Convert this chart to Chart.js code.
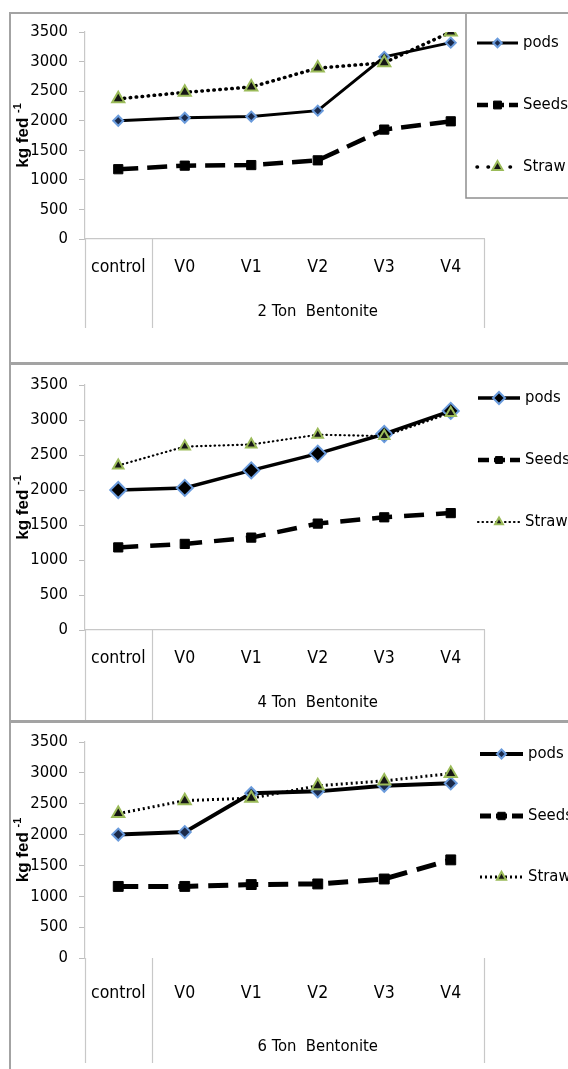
<!DOCTYPE html>
<html>
<head>
<meta charset="utf-8">
<script src="https://cdn.jsdelivr.net/npm/chart.js@4.4.1/dist/chart.umd.min.js"></script>
<style>
  html, body { margin: 0; padding: 0; background: #fff; }
  #page { position: relative; width: 568px; height: 1069px; overflow: hidden; background: #fff; }
  canvas { position: absolute; left: 0; }
  .rule { position: absolute; background: #a3a3a3; z-index: 5; }
</style>
</head>
<body>
<div id="page">
  <canvas id="c2" style="top:0px"></canvas>
  <canvas id="c4" style="top:363px"></canvas>
  <canvas id="c6" style="top:721px"></canvas>
  <div class="rule" style="left:9px; top:12px; width:559px; height:2px;"></div>
  <div class="rule" style="left:9px; top:12px; width:2px; height:1057px;"></div>
  <div class="rule" style="left:9px; top:362px; width:559px; height:3px;"></div>
  <div class="rule" style="left:9px; top:720px; width:559px; height:3px;"></div>
</div>
<script>
// Categories, tick values and labels
const categories = ['control', 'V0', 'V1', 'V2', 'V3', 'V4'];
const seriesNames = ['pods', 'Seeds', 'Straw'];
const yTicks = [0, 500, 1000, 1500, 2000, 2500, 3000, 3500];
const groupLabels = ['2 Ton  Bentonite', '4 Ton  Bentonite', '6 Ton  Bentonite'];
const yTitle = 'kg fed';
const yTitleSup = '-1';

// Yields, kg fed-1 — 2 ton bentonite
const pods2 = [2000, 2050, 2070, 2170, 3080, 3320];
const seeds2 = [1180, 1240, 1250, 1330, 1850, 1990];
const straw2 = [2370, 2480, 2570, 2890, 2980, 3500];

// 4 ton bentonite
const pods4 = [2000, 2030, 2280, 2520, 2800, 3130];
const seeds4 = [1180, 1230, 1320, 1520, 1610, 1670];
const straw4 = [2350, 2620, 2650, 2790, 2770, 3100];

// 6 ton bentonite
const pods6 = [2000, 2040, 2670, 2700, 2790, 2830];
const seeds6 = [1160, 1160, 1190, 1200, 1280, 1590];
const straw6 = [2340, 2550, 2590, 2790, 2870, 2990];

const FONT = "'DejaVu Sans Condensed', 'DejaVu Sans', sans-serif";
Chart.defaults.font.family = FONT;
Chart.defaults.color = '#000';

// Separators of the two-level category axis, group caption, rotated y title and legend
const panelDecor = {
  id: 'panelDecor',
  afterDraw(chart, args, o) {
    const { ctx, chartArea, scales } = chart;
    const x = scales.x;
    const p0 = x.getPixelForValue(0), p1 = x.getPixelForValue(1);
    const seps = [chartArea.left, (p0 + p1) / 2, chartArea.right];
    ctx.save();
    ctx.strokeStyle = '#c8c8c8';
    ctx.lineWidth = 1.2;
    seps.forEach(px => {
      ctx.beginPath();
      ctx.moveTo(Math.round(px) + 0.5, chartArea.bottom);
      ctx.lineTo(Math.round(px) + 0.5, o.sepBottom);
      ctx.stroke();
    });

    // group caption under V0..V4
    ctx.fillStyle = '#000';
    ctx.font = '16.5px ' + FONT;
    ctx.textAlign = 'center';
    ctx.textBaseline = 'middle';
    ctx.fillText(o.group, (seps[1] + seps[2]) / 2, chartArea.bottom + o.groupOffset);

    // rotated y title with superscript
    ctx.save();
    const cy = (chartArea.top + chartArea.bottom) / 2;
    ctx.translate(o.titleX, cy);
    ctx.rotate(-Math.PI / 2);
    const mainFont = 'bold 17px "Liberation Sans", sans-serif';
    const supFont = 'bold 11px "Liberation Sans", sans-serif';
    ctx.font = mainFont;
    const w1 = ctx.measureText(yTitle + ' ').width;
    ctx.font = supFont;
    const w2 = ctx.measureText(yTitleSup).width;
    const start = -(w1 + w2) / 2;
    ctx.textAlign = 'left';
    ctx.textBaseline = 'alphabetic';
    ctx.font = mainFont;
    ctx.fillText(yTitle, start, 0);
    ctx.font = supFont;
    ctx.fillText(yTitleSup, start + w1, -7);
    ctx.restore();

    // legend box (first panel only)
    if (o.legendBox) {
      const b = o.legendBox;
      ctx.strokeStyle = '#8f8f8f';
      ctx.lineWidth = 1.5;
      ctx.strokeRect(b[0], b[1], b[2], b[3]);
    }

    // legend entries
    chart.data.datasets.forEach((ds, i) => {
      const y = o.legendY[i];
      const x0 = o.legendX, x1 = o.legendX + o.legendLen;
      const mx = (x0 + x1) / 2;
      ctx.save();
      ctx.strokeStyle = ds.borderColor;
      ctx.lineWidth = ds.borderWidth;
      ctx.lineCap = ds.borderCapStyle || 'butt';
      ctx.setLineDash(o.legendDash[i]);
      ctx.beginPath();
      ctx.moveTo(x0, y);
      ctx.lineTo(x1, y);
      ctx.stroke();
      ctx.setLineDash([]);
      ctx.fillStyle = ds.pointBackgroundColor;
      ctx.strokeStyle = ds.pointBorderColor;
      ctx.lineWidth = ds.pointBorderWidth;
      Chart.helpers.drawPoint(ctx, {
        pointStyle: ds.pointStyle,
        radius: ds.pointRadius * o.legendMarkerScale,
        rotation: 0,
        borderWidth: ds.pointBorderWidth
      }, mx, y);
      ctx.restore();
      ctx.fillStyle = '#000';
      ctx.font = '16.5px ' + FONT;
      ctx.textAlign = 'left';
      ctx.textBaseline = 'middle';
      ctx.fillText(ds.label, x1 + 5, y);
    });
    ctx.restore();
  }
};

function makePanel(id, height, values, st) {
  const cv = document.getElementById(id);
  cv.width = 568;
  cv.height = height;
  cv.style.width = '568px';
  cv.style.height = height + 'px';
  const datasets = [
    {
      label: seriesNames[0], data: values[0],
      borderColor: '#000', borderWidth: st.podsWidth,
      pointStyle: 'rectRot', pointRadius: st.podsRadius,
      pointBackgroundColor: st.podsFill, pointBorderColor: '#6a9bdc', pointBorderWidth: 2
    },
    {
      label: seriesNames[1], data: values[1],
      borderColor: '#000', borderWidth: st.seedsWidth, borderDash: st.seedsDash,
      pointStyle: 'rect', pointRadius: st.seedsRadius,
      pointBackgroundColor: '#000', pointBorderColor: '#000', pointBorderWidth: 1
    },
    {
      label: seriesNames[2], data: values[2],
      borderColor: '#000', borderWidth: st.strawWidth, borderDash: st.strawDash,
      borderCapStyle: st.strawCap,
      pointStyle: 'triangle', pointRadius: st.strawRadius,
      pointBackgroundColor: '#151515', pointBorderColor: '#9bbb59', pointBorderWidth: 2
    }
  ];
  return new Chart(cv, {
    type: 'line',
    data: { labels: categories, datasets: datasets.reverse() },
    plugins: [panelDecor],
    options: {
      responsive: false,
      animation: false,
      events: [],
      layout: { padding: { left: 0, right: 568 - 484, top: st.top, bottom: 0 } },
      plugins: {
        legend: { display: false },
        tooltip: { enabled: false },
        panelDecor: st.decor
      },
      scales: {
        x: {
          type: 'category',
          offset: true,
          afterFit: s => { s.height = height - st.bottom; },
          grid: { display: true, drawOnChartArea: false, drawTicks: false, color: 'rgba(0,0,0,0)' },
          border: { display: st.showXLine, color: '#c8c8c8', width: 1.2 },
          ticks: { padding: st.xTickPad, font: { size: 17.5 }, color: '#000', maxRotation: 0, autoSkip: false }
        },
        y: {
          min: 0, max: 3500,
          afterFit: s => { s.width = 85; },
          afterBuildTicks: s => { s.ticks = yTicks.map(v => ({ value: v })); },
          grid: { display: true, drawOnChartArea: false, drawTicks: true, tickLength: 6, color: '#bdbdbd' },
          border: { display: true, color: '#c8c8c8', width: 1.2 },
          ticks: { padding: 11, font: { size: 16.5 }, color: '#000', callback: v => String(v) }
        }
      }
    }
  });
}

// legend rows follow dataset order (reversed so pods is drawn on top)
makePanel('c2', 363, [pods2, seeds2, straw2], {
  top: 32, bottom: 239, xTickPad: 18, showXLine: true,
  podsWidth: 3, podsRadius: 5, podsFill: '#1b2a4a',
  seedsWidth: 4.5, seedsDash: [20, 9], seedsRadius: 6.5,
  strawWidth: 3.5, strawDash: [0.5, 5.5], strawCap: 'round', strawRadius: 7,
  decor: {
    sepBottom: 328, group: groupLabels[0], groupOffset: 73, titleX: 28,
    legendBox: [466, 13, 110, 185],
    legendX: 477, legendLen: 41, legendY: [167, 105, 43],
    legendDash: [[0.5, 10.5], [11, 5], []], legendMarkerScale: 0.85
  }
});

makePanel('c4', 358, [pods4, seeds4, straw4], {
  top: 22, bottom: 267, xTickPad: 18, showXLine: true,
  podsWidth: 3.5, podsRadius: 8, podsFill: '#000',
  seedsWidth: 4.5, seedsDash: [20, 12], seedsRadius: 6.5,
  strawWidth: 2.2, strawDash: [0.5, 4], strawCap: 'round', strawRadius: 6,
  decor: {
    sepBottom: 358, group: groupLabels[1], groupOffset: 73, titleX: 28,
    legendBox: null,
    legendX: 478, legendLen: 42, legendY: [159, 97, 35],
    legendDash: [[0.5, 4], [11, 5], []], legendMarkerScale: 0.75
  }
});

makePanel('c6', 348, [pods6, seeds6, straw6], {
  top: 21, bottom: 237, xTickPad: 25, showXLine: false,
  podsWidth: 4, podsRadius: 6, podsFill: '#1b2a4a',
  seedsWidth: 5, seedsDash: [20, 10], seedsRadius: 7,
  strawWidth: 3, strawDash: [2, 3], strawCap: 'butt', strawRadius: 7,
  decor: {
    sepBottom: 342, group: groupLabels[2], groupOffset: 89, titleX: 28,
    legendBox: null,
    legendX: 480, legendLen: 43, legendY: [156, 95, 33],
    legendDash: [[2, 3], [11, 5], []], legendMarkerScale: 0.75
  }
});
</script>
</body>
</html>
